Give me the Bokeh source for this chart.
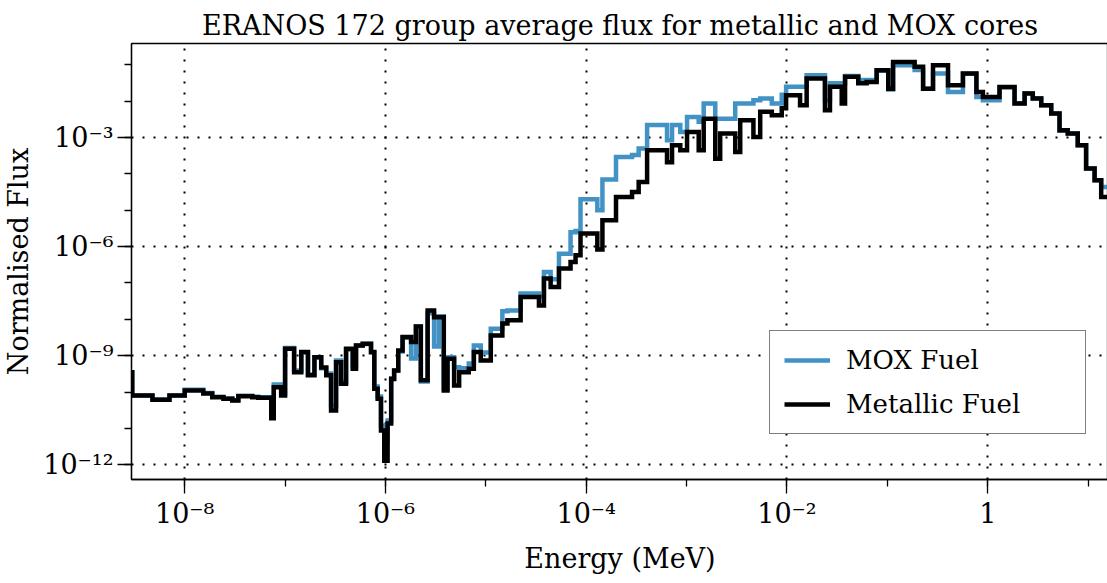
from bokeh.plotting import figure
from bokeh.models import (FixedTicker, CustomJSTickFormatter, Range1d,
                          Legend, LegendItem)
from bokeh.embed import file_html
from bokeh.resources import INLINE

# 172-group structure (MeV), only the groups inside the plotted window
group_edges = [
    2.0e-9, 3.0e-9, 4.77e-9, 7.05e-9, 1.0e-8, 1.53e-8, 1.88e-8, 2.43e-8, 2.98e-8,
    3.42e-8, 4.71e-8, 5.41e-8, 7.28e-8, 7.71e-8, 9.14e-8, 1.0e-7, 1.23e-7, 1.45e-7,
    1.69e-7, 1.96e-7, 2.29e-7, 2.57e-7, 2.87e-7, 3.22e-7, 3.61e-7, 4.05e-7, 4.72e-7,
    5.09e-7, 5.93e-7, 7.18e-7, 7.74e-7, 8.36e-7, 9.02e-7, 9.73e-7, 1.05e-6, 1.14e-6,
    1.22e-6, 1.34e-6, 1.48e-6, 1.80e-6, 2.01e-6, 2.25e-6, 2.63e-6, 3.05e-6, 3.40e-6,
    3.81e-6, 4.15e-6, 4.83e-6, 5.42e-6, 6.76e-6, 7.59e-6, 8.89e-6, 1.12e-5, 1.46e-5,
    1.64e-5, 2.22e-5, 3.38e-5, 3.79e-5, 4.42e-5, 5.35e-5, 6.98e-5, 7.83e-5, 8.77e-5,
    1.29e-4, 1.45e-4, 1.98e-4, 2.86e-4, 3.33e-4, 4.04e-4, 6.38e-4, 7.16e-4, 8.65e-4,
    1.01e-3, 1.32e-3, 1.48e-3, 1.93e-3, 2.16e-3, 3.05e-3, 3.42e-3, 4.63e-3, 5.41e-3,
    7.06e-3, 8.87e-3, 9.8e-3, 1.35e-2, 1.57e-2, 2.39e-2, 2.68e-2, 3.51e-2, 3.79e-2,
    5.13e-2, 6.21e-2, 7.82e-2, 0.102, 0.114, 0.187, 0.227, 0.285, 0.402, 0.566,
    0.771, 0.895, 1.31, 1.85, 2.33, 2.81, 3.41, 4.29, 5.19, 6.27, 7.88, 9.55,
    11.6, 13.5, 19.6,
]

mox_flux = [
    3.5e-10, 8.1e-11, 6.2e-11, 8.1e-11, 1.15e-10, 9.4e-11, 7.4e-11, 6.6e-11, 6.0e-11,
    7.9e-11, 7.4e-11, 7.2e-11, 2.8e-11, 1.62e-10, 9.2e-11, 1.64e-9, 3.9e-10, 1.23e-9,
    3.05e-10, 9.0e-10, 4.5e-10, 3.25e-10, 4.3e-11, 7.4e-10, 1.96e-10, 1.49e-9, 5.1e-10,
    1.92e-9, 2.10e-9, 1.23e-9, 1.43e-10, 7.6e-11, 1.2e-11, 4.7e-12, 1.66e-11, 2.4e-10,
    3.9e-10, 1.31e-9, 3.1e-9, 8.4e-10, 6.4e-9, 1.96e-10, 1.46e-8, 1.8e-9, 1.21e-8,
    1.26e-10, 9.0e-10, 4.85e-10, 4.5e-10, 6.1e-10, 1.92e-9, 1.23e-9, 5.5e-9, 1.66e-8,
    1.76e-8, 5.1e-8, 4.3e-8, 2.0e-7, 1.26e-7, 6.4e-7, 2.5e-6, 2.7e-6, 2.0e-5,
    1.0e-5, 7.0e-5, 2.9e-4, 3.3e-4, 5.0e-4, 2.2e-3, 8.4e-4, 2.2e-3, 1.43e-3,
    3.7e-3, 2.7e-3, 8.6e-3, 3.3e-3, 3.3e-3, 8.6e-3, 8.6e-3, 1.06e-2, 1.18e-2,
    8.6e-3, 1.5e-2, 2.5e-2, 2.5e-2, 5.2e-2, 1.06e-2, 3.1e-2, 3.1e-2, 4.9e-2,
    3.8e-2, 3.8e-2, 6.9e-2, 2.1e-2, 9.8e-2, 7.2e-2, 2.2e-2, 5.8e-2, 1.8e-2,
    5.7e-2, 1.31e-2, 1.06e-2, 2.43e-2, 8.8e-3, 1.66e-2, 1.21e-2, 7.7e-3, 4.6e-3,
    1.53e-3, 1.29e-3, 6.1e-4, 1.40e-4, 6.7e-5, 4.4e-5,
]

metallic_flux = [
    3.5e-10, 8.1e-11, 6.1e-11, 8.1e-11, 1.11e-10, 9.2e-11, 7.2e-11, 6.5e-11, 5.9e-11,
    7.7e-11, 7.2e-11, 7.0e-11, 1.9e-11, 1.36e-10, 8.1e-11, 1.56e-9, 3.5e-10, 1.26e-9,
    2.9e-10, 9.1e-10, 4.75e-10, 2.9e-10, 3.1e-11, 6.6e-10, 1.7e-10, 1.56e-9, 4.4e-10,
    1.92e-9, 2.14e-9, 1.26e-9, 1.23e-10, 6.5e-11, 8.8e-12, 1.3e-12, 1.37e-11, 2.3e-10,
    3.9e-10, 1.40e-9, 3.25e-9, 2.4e-9, 6.4e-9, 2.1e-10, 1.76e-8, 1.15e-8, 1.15e-8,
    1.11e-10, 8.3e-10, 1.52e-10, 3.5e-10, 4.4e-10, 1.26e-9, 7.4e-10, 3.6e-9, 7.7e-9,
    9.4e-9, 4.1e-8, 2.4e-8, 1.32e-7, 7.7e-8, 2.5e-7, 3.8e-7, 5.8e-7, 2.3e-6,
    8.4e-7, 5.3e-6, 2.3e-5, 3.2e-5, 6.0e-5, 4.5e-4, 2.1e-4, 6.1e-4, 4.5e-4,
    1.43e-3, 4.5e-4, 3.3e-3, 2.6e-4, 1.29e-3, 4.0e-4, 3.0e-3, 1.04e-3, 5.1e-3,
    4.1e-3, 6.4e-3, 1.46e-2, 7.7e-3, 4.2e-2, 5.6e-3, 2.5e-2, 8.6e-3, 4.7e-2,
    3.1e-2, 3.4e-2, 7.1e-2, 2.2e-2, 0.12, 8.8e-2, 2.2e-2, 9.8e-2, 2.75e-2,
    5.8e-2, 1.8e-2, 1.31e-2, 2.47e-2, 8.6e-3, 1.63e-2, 1.18e-2, 7.7e-3, 4.6e-3,
    1.59e-3, 1.29e-3, 6.1e-4, 1.40e-4, 6.7e-5, 2.3e-5,
]

x_major_ticks = [1e-8, 1e-6, 1e-4, 1e-2, 1.0]
x_minor_ticks = [1e-9, 1e-8, 1e-7, 1e-6, 1e-5, 1e-4, 1e-3, 1e-2, 1e-1, 1.0, 10.0]
y_major_ticks = [1e-12, 1e-9, 1e-6, 1e-3]
y_minor_ticks = [1e-12, 1e-11, 1e-10, 1e-9, 1e-8, 1e-7, 1e-6, 1e-5, 1e-4,
                 1e-3, 1e-2, 1e-1]

SERIF = "DejaVu Serif"
MOX_COLOR = "#4292c6"
INK = "black"

p = figure(
    x_axis_type="log", y_axis_type="log",
    x_range=Range1d(2.95e-9, 15.96), y_range=Range1d(10 ** -12.405, 10 ** -0.413),
    frame_width=977, frame_height=436,
    min_border_left=130, min_border_right=0, min_border_top=43, min_border_bottom=104,
    output_backend="svg", toolbar_location=None,
    title="ERANOS 172 group average flux for metallic and MOX cores",
)
p.background_fill_color = "white"
p.border_fill_color = "white"
p.outline_line_color = INK
p.outline_line_width = 1.3

p.title.text_font = SERIF
p.title.text_font_style = "normal"
p.title.text_font_size = "27px"
p.title.text_color = INK
p.title.align = "center"
p.title.offset = 5
p.title.standoff = 6

# step lines: last group is closed by repeating its value at the upper edge
mox_y = mox_flux + [mox_flux[-1]]
met_y = metallic_flux + [metallic_flux[-1]]
r_mox = p.step(group_edges, mox_y, mode="after", line_color=MOX_COLOR,
               line_width=4.5, line_join="miter")
r_met = p.step(group_edges, met_y, mode="after", line_color=INK,
               line_width=4.5, line_join="miter")

fmt = CustomJSTickFormatter(code="""
    const e = Math.round(Math.log10(tick));
    if (e === 0) { return "1"; }
    const sup = {"-": "\u207b", "0": "\u2070", "1": "\u00b9", "2": "\u00b2",
                 "3": "\u00b3", "4": "\u2074", "5": "\u2075", "6": "\u2076",
                 "7": "\u2077", "8": "\u2078", "9": "\u2079"};
    return "10" + String(e).split("").map(c => sup[c]).join("");
""")

for ax, major, minor, label, label_gap in (
    (p.xaxis[0], x_major_ticks, x_minor_ticks, "Energy (MeV)", 11),
    (p.yaxis[0], y_major_ticks, y_minor_ticks, "Normalised Flux", 6),
):
    ax.ticker = FixedTicker(ticks=major, minor_ticks=minor)
    ax.formatter = fmt
    ax.axis_label = label
    ax.axis_label_text_font = SERIF
    ax.axis_label_text_font_style = "normal"
    ax.axis_label_text_font_size = "27px"
    ax.axis_label_text_color = INK
    ax.major_label_text_font = SERIF
    ax.major_label_text_font_size = "27px"
    ax.major_label_text_color = INK
    ax.axis_line_color = INK
    ax.axis_line_width = 1.3
    ax.major_tick_line_color = INK
    ax.minor_tick_line_color = INK
    ax.major_tick_line_width = 1.3
    ax.minor_tick_line_width = 1.3
    ax.major_tick_out = 14
    ax.major_tick_in = 0
    ax.minor_tick_out = 7
    ax.minor_tick_in = 0
    ax.major_label_standoff = 4
    ax.axis_label_standoff = label_gap

for grid, major in ((p.xgrid[0], x_major_ticks), (p.ygrid[0], y_major_ticks)):
    grid.ticker = FixedTicker(ticks=major)
    grid.grid_line_color = INK
    grid.grid_line_width = 2
    grid.grid_line_dash = "2 9"

legend = Legend(
    items=[LegendItem(label="MOX Fuel", renderers=[r_mox]),
           LegendItem(label="Metallic Fuel", renderers=[r_met])],
    location=(638, 45),
    label_text_font=SERIF, label_text_font_size="26px", label_text_color=INK,
    glyph_width=46, glyph_height=30, label_height=30, label_width=225,
    label_standoff=16, padding=14, spacing=14, margin=0,
    border_line_color=INK, border_line_width=1.3,
    background_fill_alpha=1.0,
)
p.add_layout(legend)

open("out.html", "w").write(file_html(p, INLINE))
